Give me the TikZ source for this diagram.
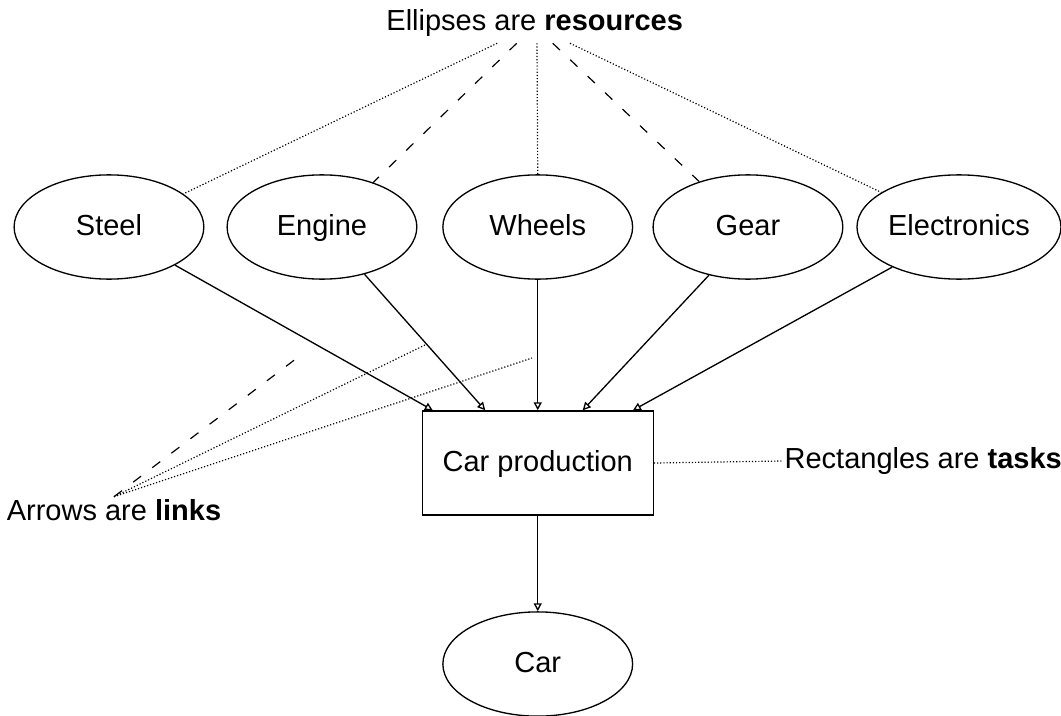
\documentclass[tikz,border=0pt]{standalone}
\usepackage{fontspec}
\setmainfont{Liberation Sans}
\usepackage{tikz}
\usetikzlibrary{arrows.meta, shapes.geometric, positioning}
\usetikzlibrary{calc}

\begin{document}
\begin{tikzpicture}[
    font=\fontsize{11}{13}\selectfont,
    res/.style={draw, ellipse, line width=0.5pt, inner sep=0pt,
                text height=1.6ex, text depth=0.45ex,
                minimum width=2.53cm, minimum height=1.39cm},
    task/.style={draw, rectangle, line width=0.5pt,
                 text height=1.6ex, text depth=0.45ex,
                 minimum width=3.08cm, minimum height=1.39cm},
    link/.style={line width=0.5pt, -{Triangle[open, length=3pt, width=3pt]}},
    note/.style={line width=0.45pt},
    dots/.style={note, dash pattern=on 0.45pt off 0.75pt},
    dashes/.style={note, dash pattern=on 3.8pt off 5.3pt}
  ]

\useasboundingbox (0,0) rectangle (14.147,9.547);

% resources
\node[res] (steel) at (1.453,6.52) {Steel};
\node[res] (engine) at (4.293,6.52) {Engine};
\node[res] (wheels) at (7.17,6.52) {Wheels};
\node[res] (gear) at (9.973,6.52) {Gear};
\node[res, minimum width=2.72cm] (electronics) at (12.787,6.52) {Electronics};

% task and product
\node[task] (prod) at (7.17,3.373) {Car production};
\node[res] (car) at (7.17,0.693) {Car};

% links
\foreach \src/\ang/\dx in {steel/-30/-1.40, engine/-48/-0.70, wheels/-90/0,
                           gear/-129/0.60, electronics/-149/1.27} {
    \draw[link] (\src.\ang) -- ($(prod.north)+(\dx,0)$);
  }
\draw[link] (prod) -- (car);

% annotations
\node (resnote) at (7.13,9.24) {Ellipses are \textbf{resources}};
\node[inner sep=1pt, anchor=west] (tasknote) at (10.42,3.40) {Rectangles are \textbf{tasks}};
\node[inner sep=1pt] (linknote) at (1.52,2.74) {Arrows are \textbf{links}};

\foreach \name/\x in {rs/6.63, re/6.89, rw/7.16, rg/7.37, rl/7.60}
  \coordinate (\name) at (\x,8.97);

\draw[dots] (rs) -- (steel.24);
\draw[dashes] (re) -- (engine.41);
\draw[dots] (rw) -- (wheels.north);
\draw[dashes] (rg) -- (gear.137);
\draw[dots] (rl) -- (electronics.156);

\draw[dots] (prod.east) -- (tasknote.west);

\coordinate (ls) at (3.96,4.773);
\coordinate (le) at (5.667,4.947);
\coordinate (lw) at (7.093,4.773);
\draw[dashes] (linknote.north) -- (ls);
\draw[dots] (linknote.north) -- (le);
\draw[dots] (linknote.north) -- (lw);

\end{tikzpicture}
\end{document}
